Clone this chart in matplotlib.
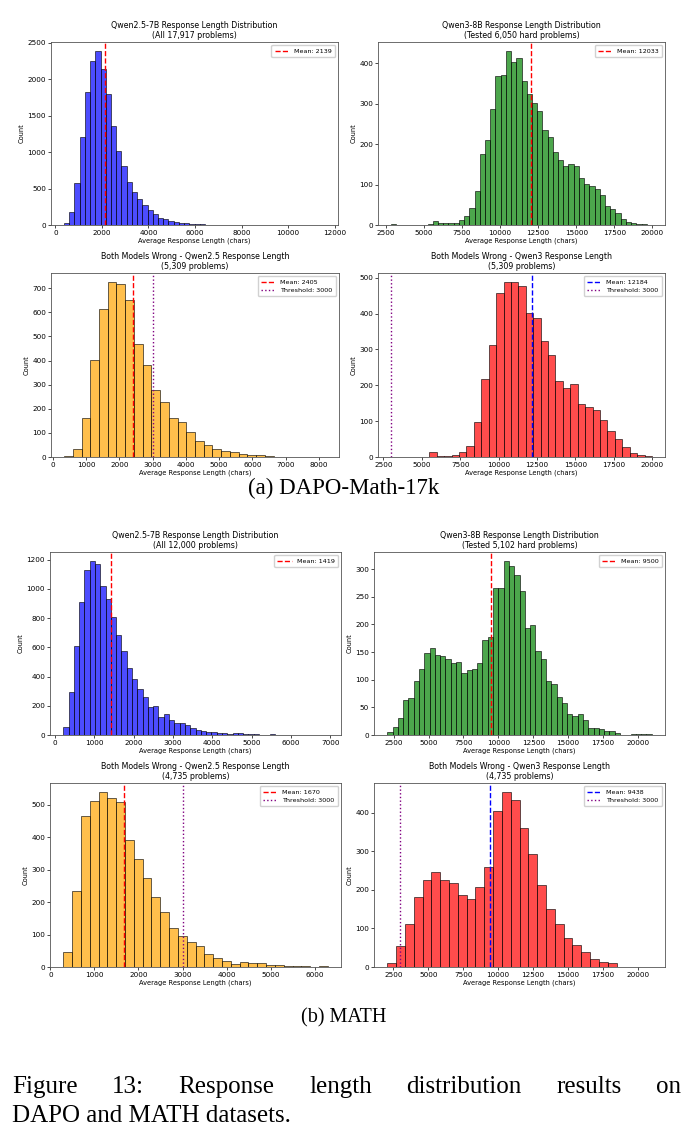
"""
Response length histograms (DAPO-Math-17k and MATH), 2x2 per dataset.
"""

import numpy as np
import matplotlib
matplotlib.use("Agg")
import matplotlib.pyplot as plt
from matplotlib.ticker import MultipleLocator

# ─────────────────────────────────────────────────────────────
# Data: per-bin counts, plus the data range
# (min / max) that the histogram bins span.
# ─────────────────────────────────────────────────────────────

# (a) DAPO-Math-17k
dapo_q25_range = (374, 11582)
dapo_q25_counts = [27, 181, 576, 1202, 1820, 2250, 2391, 2142, 1801, 1361,
                   1016, 808, 594, 458, 363, 281, 200, 145, 91, 85,
                   52, 40, 30, 25, 15, 10, 8, 5, 3, 2,
                   2, 1, 1, 1, 1, 0, 1, 0, 0, 1,
                   0, 0, 0, 1, 0, 0, 0, 0, 0, 1]
dapo_q25_mean = 2139

dapo_q3_range = (2831, 19976)
dapo_q3_counts = [2, 0, 0, 0, 0, 0, 0, 3, 11, 4,
                  4, 5, 6, 13, 22, 43, 84, 176, 211, 288,
                  368, 371, 431, 403, 413, 357, 324, 301, 281, 236,
                  217, 180, 161, 145, 152, 146, 115, 102, 97, 89,
                  75, 46, 39, 30, 16, 8, 6, 3, 2, 1]
dapo_q3_mean = 12033

dapo_wrong_q25_range = (343, 8207)
dapo_wrong_q25_counts = [5, 34, 160, 401, 612, 727, 719, 653, 467, 380,
                         276, 227, 161, 145, 103, 65, 50, 33, 26, 20,
                         14, 8, 8, 3, 2, 1, 1, 1, 1, 1]
dapo_wrong_q25_mean = 2405

dapo_wrong_q3_range = (5489, 19976)
dapo_wrong_q3_counts = [14, 3, 2, 5, 14, 30, 98, 217, 312, 457,
                        488, 489, 476, 402, 388, 323, 284, 213, 193, 205,
                        148, 140, 132, 104, 73, 50, 28, 11, 6, 3]
dapo_wrong_q3_mean = 12184

# (b) MATH
math_q25_range = (209, 6935)
math_q25_counts = [52, 297, 612, 910, 1127, 1193, 1170, 1023, 930, 810,
                   685, 576, 458, 381, 313, 263, 193, 197, 120, 143,
                   102, 79, 79, 66, 45, 34, 29, 20, 18, 11,
                   16, 8, 13, 12, 6, 5, 5, 3, 3, 4,
                   2, 2, 1, 3, 1, 0, 1, 0, 0, 1]
math_q25_mean = 1419

math_q3_range = (2038, 20986)
math_q3_counts = [5, 14, 30, 63, 66, 97, 119, 148, 158, 144,
                  143, 138, 130, 132, 112, 117, 120, 131, 172, 177,
                  265, 265, 315, 306, 289, 260, 194, 199, 152, 137,
                  97, 93, 68, 57, 38, 34, 38, 28, 12, 13,
                  11, 7, 8, 4, 0, 0, 1, 1, 1, 1]
math_q3_mean = 9500

math_wrong_q25_range = (292, 6298)
math_wrong_q25_counts = [47, 233, 465, 512, 540, 522, 509, 392, 334, 273,
                         216, 169, 121, 97, 76, 66, 41, 29, 20, 10,
                         14, 13, 13, 5, 7, 2, 3, 3, 0, 2]
math_wrong_q25_mean = 1670

math_wrong_q3_range = (2063, 20985)
math_wrong_q3_counts = [10, 54, 112, 181, 225, 246, 226, 217, 187, 177,
                        208, 259, 403, 454, 432, 361, 294, 212, 151, 112,
                        75, 56, 38, 22, 12, 10, 0, 0, 0, 1]
math_wrong_q3_mean = 9438

threshold = 3000

# ─────────────────────────────────────────────────────────────
# Layout helpers
# ─────────────────────────────────────────────────────────────
W, H = 688, 1148
fig = plt.figure(figsize=(W / 100, H / 100), dpi=100)
plt.rcParams["font.family"] = "DejaVu Sans"


def px_axes(left, top, right, bottom):
    return fig.add_axes([left / W, 1 - bottom / H, (right - left) / W, (bottom - top) / H])


def hist_panel(ax, data_range, counts, color, title, mean, mean_color="red",
               show_threshold=False, xstep=None):
    edges = np.linspace(data_range[0], data_range[1], len(counts) + 1)
    ax.hist(edges[:-1], bins=edges, weights=counts, color=color, alpha=0.7,
            edgecolor="black", linewidth=0.6)
    ax.axvline(mean, color=mean_color, linestyle="--", linewidth=1.0,
               label=f"Mean: {mean}")
    if show_threshold:
        ax.axvline(threshold, color="purple", linestyle=":", linewidth=1.0,
                   label=f"Threshold: {threshold}")
    ax.set_title(title, fontsize=5.7, pad=3, linespacing=1.1)
    ax.set_xlabel("Average Response Length (chars)", fontsize=4.8, labelpad=1.5)
    ax.set_ylabel("Count", fontsize=4.8, labelpad=2)
    if xstep:
        ax.xaxis.set_major_locator(MultipleLocator(xstep))
    ax.tick_params(labelsize=5.2, length=2, width=0.5, pad=1.5)
    for sp in ax.spines.values():
        sp.set_linewidth(0.6)
        sp.set_color("#555555")
    ax.legend(loc="upper right", fontsize=4.6, handlelength=2.2,
              borderpad=0.5, labelspacing=0.4, framealpha=0.9)


# ── (a) DAPO-Math-17k ────────────────────────────────────────
ax1 = px_axes(51, 42, 338, 225)
hist_panel(ax1, dapo_q25_range, dapo_q25_counts, "blue",
           "Qwen2.5-7B Response Length Distribution\n(All 17,917 problems)",
           dapo_q25_mean, xstep=2000)

ax2 = px_axes(378, 42, 665, 225)
hist_panel(ax2, dapo_q3_range, dapo_q3_counts, "green",
           "Qwen3-8B Response Length Distribution\n(Tested 6,050 hard problems)",
           dapo_q3_mean, xstep=2500)

ax3 = px_axes(51, 273, 339, 457)
hist_panel(ax3, dapo_wrong_q25_range, dapo_wrong_q25_counts, "orange",
           "Both Models Wrong - Qwen2.5 Response Length\n(5,309 problems)",
           dapo_wrong_q25_mean, show_threshold=True, xstep=1000)

ax4 = px_axes(378, 273, 665, 457)
hist_panel(ax4, dapo_wrong_q3_range, dapo_wrong_q3_counts, "red",
           "Both Models Wrong - Qwen3 Response Length\n(5,309 problems)",
           dapo_wrong_q3_mean, mean_color="blue", show_threshold=True, xstep=2500)

# ── (b) MATH ─────────────────────────────────────────────────
ax5 = px_axes(50, 552, 341, 735)
hist_panel(ax5, math_q25_range, math_q25_counts, "blue",
           "Qwen2.5-7B Response Length Distribution\n(All 12,000 problems)",
           math_q25_mean, xstep=1000)

ax6 = px_axes(374, 552, 665, 735)
hist_panel(ax6, math_q3_range, math_q3_counts, "green",
           "Qwen3-8B Response Length Distribution\n(Tested 5,102 hard problems)",
           math_q3_mean, xstep=2500)

ax7 = px_axes(50, 783, 341, 967)
hist_panel(ax7, math_wrong_q25_range, math_wrong_q25_counts, "orange",
           "Both Models Wrong - Qwen2.5 Response Length\n(4,735 problems)",
           math_wrong_q25_mean, show_threshold=True, xstep=1000)

ax8 = px_axes(374, 783, 665, 967)
hist_panel(ax8, math_wrong_q3_range, math_wrong_q3_counts, "red",
           "Both Models Wrong - Qwen3 Response Length\n(4,735 problems)",
           math_wrong_q3_mean, mean_color="blue", show_threshold=True, xstep=2500)

# ── captions (serif, paper style) ────────────────────────────
serif = "Liberation Serif"
fig.text(344 / W, 1 - 488 / H, "(a) DAPO-Math-17k", ha="center", va="center",
         fontsize=16.5, family=serif)
fig.text(344 / W, 1 - 1018 / H, "(b) MATH", ha="center", va="center",
         fontsize=14.5, family=serif)


def justified_line(words, y_px, x0_px, x1_px, size):
    """Place words spread so the line fills x0..x1 (justified caption)."""
    renderer = fig.canvas.get_renderer()
    texts = [fig.text(0, 1 - y_px / H, w, fontsize=size, family=serif,
                      va="baseline") for w in words]
    widths = [t.get_window_extent(renderer).width for t in texts]
    gap = ((x1_px - x0_px) - sum(widths)) / (len(words) - 1)
    x = x0_px
    for t, w in zip(texts, widths):
        t.set_x(x / W)
        x += w + gap


justified_line(["Figure", "13:", "Response", "length", "distribution", "results", "on"],
               1093, 12, 681, 18)
fig.text(12 / W, 1 - 1122 / H, "DAPO and MATH datasets.", fontsize=18,
         family=serif, va="baseline")

fig.savefig("out.png", dpi=100)
